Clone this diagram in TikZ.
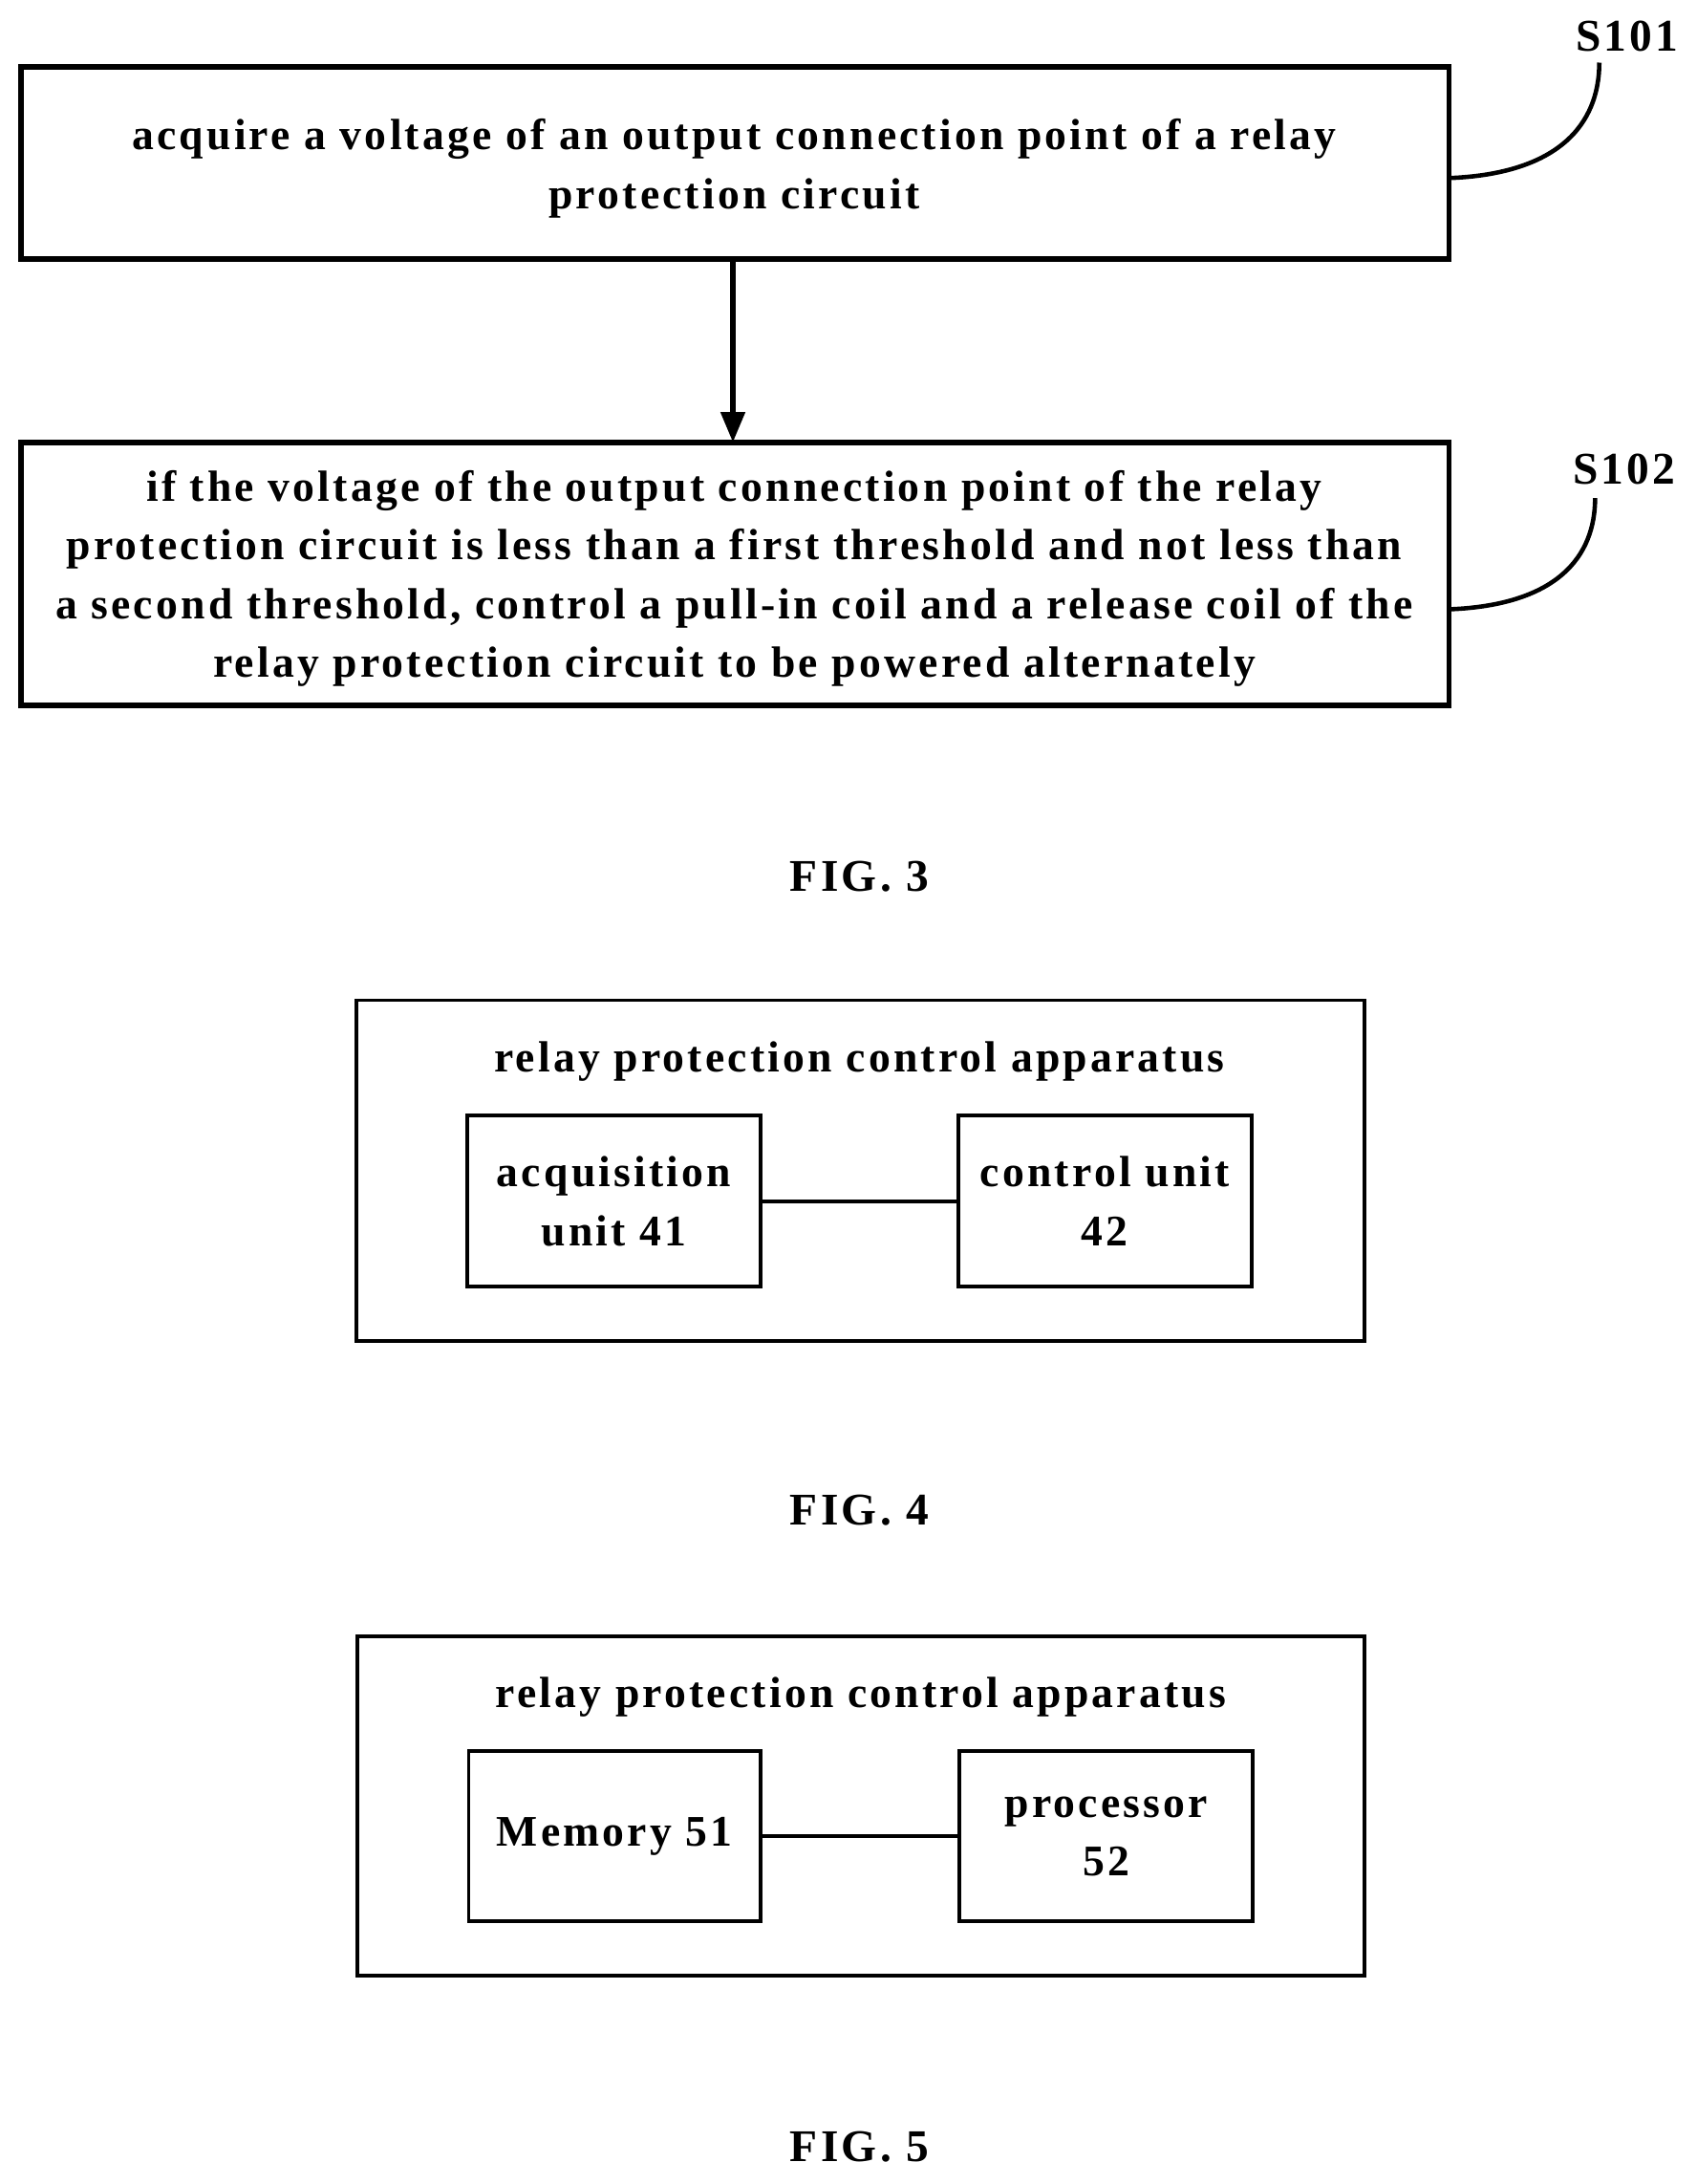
\documentclass[tikz,border=0pt]{standalone}
\usepackage{fontspec}
\setmainfont{Liberation Serif}
\newfontfamily\spacedserif[LetterSpace=7]{Liberation Serif}
\usetikzlibrary{arrows.meta,positioning}

\tikzset{
 flowbox/.style={draw,line width=1.6pt,inner sep=0pt},
 unit/.style={draw,line width=1.1pt,inner sep=0pt},
 txt/.style={font=\spacedserif\fontsize{13}{17.5}\selectfont\bfseries,align=center},
 fig/.style={font=\spacedserif\fontsize{13.5}{15}\selectfont\bfseries}
}

\begin{document}
\begin{tikzpicture}[x=0.01455cm,y=-0.01455cm,>={Triangle[length=9pt,width=7pt]}]
 \useasboundingbox (0,0) rectangle (1220,1570);

 % FIG. 3 flow
 \draw[flowbox] (15,48) rectangle (1042,186);
 \node[txt] (s1) at (528,121) {acquire a voltage of an output connection point of a relay\\protection circuit};
 \draw[flowbox] (15,318) rectangle (1042,507);
 \node[txt] (s2) at (528,416) {if the voltage of the output connection point of the relay\\protection circuit is less than a first threshold and not less than\\a second threshold, control a pull-in coil and a release coil of the\\relay protection circuit to be powered alternately};
 \coordinate (a1) at (527,186);
 \coordinate (a2) at (527,318);
 \draw[->,line width=1.6pt] (a1) -- (a2);

 % step labels
 \node[fig] (l1) at (1170,26) {S101};
 \node[fig] (l2) at (1168,337) {S102};
 \coordinate (c1) at (1042,128);
 \coordinate (c2) at (1042,438);
 \draw[line width=1.3pt] (c1) .. controls (1120,125) and (1150,90) .. (1150,45);
 \draw[line width=1.3pt] (c2) .. controls (1120,435) and (1147,400) .. (1147,358);
 \node[fig] (f3) at (618,630) {FIG. 3};

 % FIG. 4
 \draw[unit] (256,719) rectangle (981,964);
 \node[txt] (t4) at (618,763) {relay protection control apparatus};
 \node[unit,txt,minimum width=211*0.01455cm,minimum height=123*0.01455cm] (acq) at (441.5,863.5) {acquisition\\unit 41};
 \node[unit,txt,minimum width=211*0.01455cm,minimum height=123*0.01455cm] (ctl) at (794.5,863.5) {control unit\\42};
 \draw[line width=1.1pt] (acq) -- (ctl);
 \node[fig] (f4) at (618,1086) {FIG. 4};

 % FIG. 5
 \draw[unit] (257,1176) rectangle (981,1420);
 \node[txt] (t5) at (619,1220) {relay protection control apparatus};
 \node[unit,txt,minimum width=210*0.01455cm,minimum height=122*0.01455cm] (mem) at (442,1320) {Memory 51};
 \node[unit,txt,minimum width=211*0.01455cm,minimum height=122*0.01455cm] (proc) at (795.5,1320) {processor\\52};
 \draw[line width=1.1pt] (mem) -- (proc);
 \node[fig] (f5) at (618,1543) {FIG. 5};
\end{tikzpicture}
\end{document}
